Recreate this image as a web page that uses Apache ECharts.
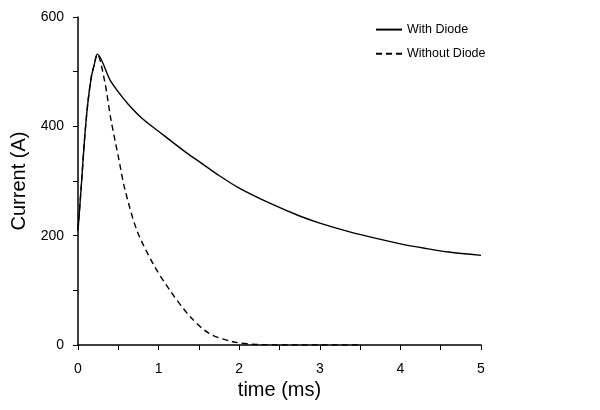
<!DOCTYPE html>
<html>
<head>
<meta charset="utf-8">
<script src="https://cdn.jsdelivr.net/npm/echarts@6/dist/echarts.min.js"></script>
<style>
  html, body { margin: 0; padding: 0; background: #fff; }
  #chart { width: 600px; height: 410px; }
</style>
</head>
<body>
<div id="chart"></div>
<script>
// time (ms) / current (A)
var timeWith = [0, 0.04, 0.08, 0.12, 0.165, 0.2, 0.24, 0.4, 0.5, 0.62, 0.8, 0.99, 1.36, 1.5, 1.75, 2.0, 2.4, 2.75, 3.0, 3.37, 3.7, 4.0, 4.3, 4.6, 5.0];
var currentWith = [210, 289, 374, 440, 490, 512, 532, 484, 463, 441, 414, 392, 350, 336, 310, 287, 258, 236, 223, 207, 195, 185, 177, 170, 164];

var timeWithout = [0, 0.04, 0.08, 0.12, 0.165, 0.2, 0.24, 0.33, 0.41, 0.5, 0.58, 0.73, 0.93, 1.14, 1.39, 1.63, 1.92, 2.21, 2.6, 3.0, 3.5];
var currentWithout = [210, 289, 374, 440, 490, 512, 532, 483, 411, 345, 286, 210, 149, 100, 52, 21, 6, 1, 0, 0, 0];

var seriesNames = ['With Diode', 'Without Diode'];

function pairs(xs, ys) {
  return xs.map(function (x, i) { return [x, ys[i]]; });
}

var chart = echarts.init(document.getElementById('chart'));
var font = 'Liberation Sans, Arial, sans-serif';

chart.setOption({
  animation: false,
  backgroundColor: '#fff',
  textStyle: { fontFamily: font, color: '#000' },
  grid: { left: 78, right: 119, top: 17, bottom: 65 },
  legend: {
    left: 370,
    top: 18,
    orient: 'vertical',
    itemWidth: 26,
    itemHeight: 14,
    itemGap: 11,
    // hide the marker dot, keep the line sample
    itemStyle: { opacity: 0 },
    data: seriesNames,
    textStyle: { fontSize: 12.5, color: '#000', fontFamily: font }
  },
  xAxis: {
    type: 'value',
    min: 0,
    max: 5,
    interval: 1,
    name: 'time (ms)',
    nameLocation: 'middle',
    nameGap: 34,
    nameTextStyle: { fontSize: 20, color: '#000' },
    axisLine: { lineStyle: { color: '#000', width: 1.5 } },
    axisTick: { inside: false, length: 5, lineStyle: { color: '#000' } },
    minorTick: { show: true, splitNumber: 2, length: 5, lineStyle: { color: '#000' } },
    axisLabel: { fontSize: 14, color: '#000', margin: 17 },
    splitLine: { show: false }
  },
  yAxis: {
    type: 'value',
    min: 0,
    max: 600,
    interval: 200,
    name: 'Current (A)',
    nameLocation: 'middle',
    nameGap: 46,
    nameTextStyle: { fontSize: 20, color: '#000' },
    axisLine: { show: true, lineStyle: { color: '#000', width: 1.5 } },
    axisTick: { show: true, inside: false, length: 5, lineStyle: { color: '#000' } },
    minorTick: { show: true, splitNumber: 2, length: 5, lineStyle: { color: '#000' } },
    axisLabel: { fontSize: 14, color: '#000', margin: 14 },
    splitLine: { show: false }
  },
  series: [
    {
      name: seriesNames[0],
      type: 'line',
      data: pairs(timeWith, currentWith),
      smooth: 0.3,
      showSymbol: false,
      color: '#000',
      lineStyle: { color: '#000', width: 1.4 }
    },
    {
      name: seriesNames[1],
      type: 'line',
      data: pairs(timeWithout, currentWithout),
      smooth: 0.3,
      showSymbol: false,
      color: '#000',
      lineStyle: { color: '#000', width: 1.4, type: [6, 4] }
    }
  ]
});
</script>
</body>
</html>
